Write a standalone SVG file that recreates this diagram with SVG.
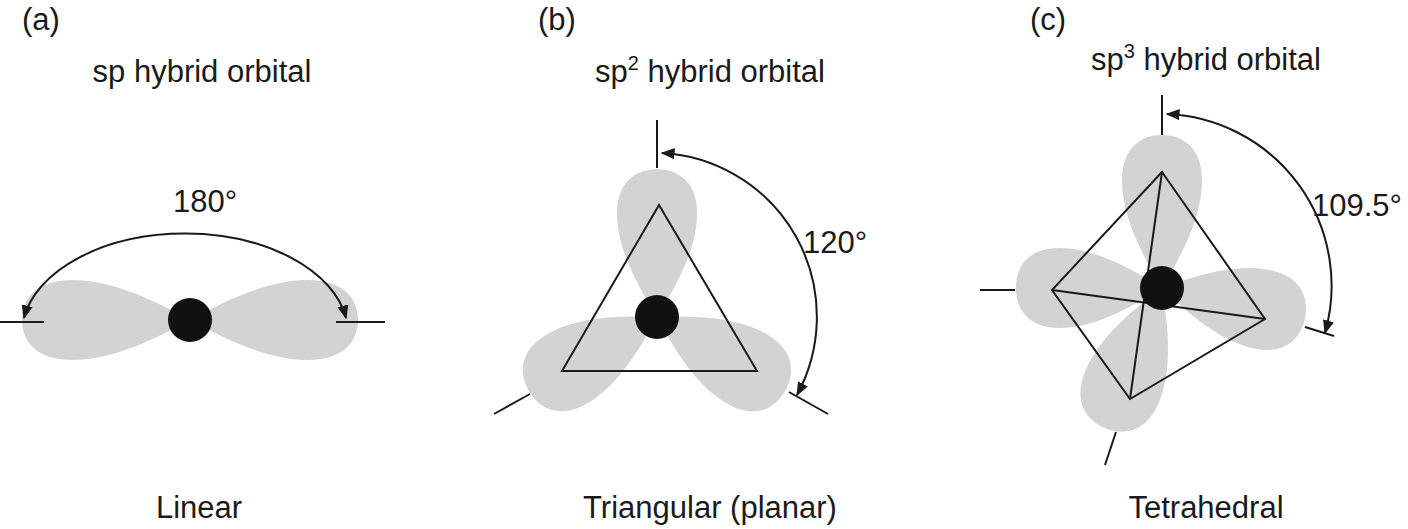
<svg xmlns="http://www.w3.org/2000/svg" width="1408" height="529" viewBox="0 0 1408 529">
<style>
text{font-family:"Liberation Sans",Arial,sans-serif;fill:#1a1a1a;font-size:31px}
.lobe{fill:#d3d3d3}
.ln{stroke:#1a1a1a;stroke-width:2;fill:none}
.arc{stroke:#1a1a1a;stroke-width:2;fill:none;marker-start:url(#ah);marker-end:url(#ah)}
.nuc{fill:#111}
</style>
<defs>
<marker id="ah" viewBox="0 0 10 10" refX="9" refY="5" markerWidth="7" markerHeight="7" orient="auto-start-reverse"><path d="M0,1 L10,5 L0,9Z" fill="#1a1a1a"/></marker>
<path id="lobe" d="M0,0 C40,-22 80,-40 118,-40 C155,-40 168,-20 168,0 C168,20 155,40 118,40 C80,40 40,22 0,0Z"/>
</defs>
<rect width="1408" height="529" fill="#fff"/>
<g id="a">
<text x="22" y="30">(a)</text>
<text x="202" y="82" text-anchor="middle">sp hybrid orbital</text>
<use href="#lobe" class="lobe" transform="translate(190,320)"/>
<use href="#lobe" class="lobe" transform="translate(190,320) rotate(180)"/>
<circle class="nuc" cx="190" cy="320" r="22"/>
<line class="ln" x1="0" y1="322" x2="44" y2="322"/>
<line class="ln" x1="336" y1="322" x2="385" y2="322"/>
<path class="arc" d="M346,318 A163,100 0 0 0 24,318"/>
<text x="205" y="212" text-anchor="middle">180°</text>
<text x="199" y="518" text-anchor="middle">Linear</text>
</g>
<g id="b">
<text x="538" y="30">(b)</text>
<text x="710" y="82" text-anchor="middle">sp<tspan dy="-12" font-size="20">2</tspan><tspan dy="12"> hybrid orbital</tspan></text>
<use href="#lobe" class="lobe" transform="translate(657,317) rotate(-90) scale(0.88,1)"/>
<use href="#lobe" class="lobe" transform="translate(657,317) rotate(150) scale(0.88,1)"/>
<use href="#lobe" class="lobe" transform="translate(657,317) rotate(30) scale(0.88,1)"/>
<polygon class="ln" points="659,205 562,371 757,371"/>
<circle class="nuc" cx="657" cy="317" r="22"/>
<line class="ln" x1="657" y1="120" x2="657" y2="168"/>
<line class="ln" x1="494" y1="414" x2="530" y2="394"/>
<line class="ln" x1="789" y1="392" x2="828" y2="414"/>
<path class="arc" d="M662,153 A164,164 0 0 1 797,395"/>
<text x="803" y="253">120°</text>
<text x="710" y="518" text-anchor="middle">Triangular (planar)</text>
</g>
<g id="c">
<text x="1030" y="30">(c)</text>
<text x="1206" y="70" text-anchor="middle">sp<tspan dy="-12" font-size="20">3</tspan><tspan dy="12"> hybrid orbital</tspan></text>
<use href="#lobe" class="lobe" transform="translate(1162,288) rotate(-90) scale(0.91,1)"/>
<use href="#lobe" class="lobe" transform="translate(1162,288) rotate(180) scale(0.87,1)"/>
<use href="#lobe" class="lobe" transform="translate(1162,288) rotate(12) scale(0.87,1)"/>
<use href="#lobe" class="lobe" transform="translate(1162,288) rotate(112) scale(0.9,1)"/>
<polygon class="ln" points="1162,172 1052,290 1130,399 1265,319"/>
<line class="ln" x1="1162" y1="172" x2="1130" y2="399"/>
<line class="ln" x1="1052" y1="290" x2="1265" y2="319"/>
<circle class="nuc" cx="1162" cy="288" r="22"/>
<line class="ln" x1="1162" y1="95" x2="1162" y2="135"/>
<line class="ln" x1="980" y1="290" x2="1015" y2="290"/>
<line class="ln" x1="1305" y1="327" x2="1334" y2="336"/>
<line class="ln" x1="1116" y1="432" x2="1105" y2="465"/>
<path class="arc" d="M1167,114 A172,172 0 0 1 1325,333"/>
<text x="1312" y="216">109.5°</text>
<text x="1206" y="518" text-anchor="middle">Tetrahedral</text>
</g>
</svg>
